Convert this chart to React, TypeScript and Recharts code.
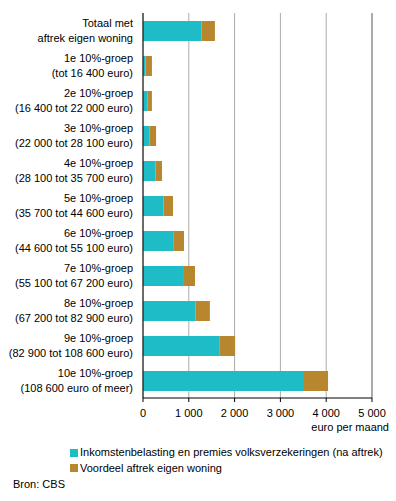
import { Bar, BarChart, CartesianGrid, ReferenceLine, XAxis, YAxis } from 'recharts';

const categories = [
  'Totaal met\naftrek eigen woning',
  '1e 10%-groep\n(tot 16 400 euro)',
  '2e 10%-groep\n(16 400 tot 22 000 euro)',
  '3e 10%-groep\n(22 000 tot 28 100 euro)',
  '4e 10%-groep\n(28 100 tot 35 700 euro)',
  '5e 10%-groep\n(35 700 tot 44 600 euro)',
  '6e 10%-groep\n(44 600 tot 55 100 euro)',
  '7e 10%-groep\n(55 100 tot 67 200 euro)',
  '8e 10%-groep\n(67 200 tot 82 900 euro)',
  '9e 10%-groep\n(82 900 tot 108 600 euro)',
  '10e 10%-groep\n(108 600 euro of meer)',
];

// euro per maand
const belasting = [1280, 55, 100, 145, 275, 450, 660, 875, 1150, 1665, 3515];
const voordeel = [290, 140, 95, 140, 140, 205, 235, 260, 310, 345, 525];

const xTicks = [0, 1000, 2000, 3000, 4000, 5000];

const SERIES_NAMES = [
  'Inkomstenbelasting en premies volksverzekeringen (na aftrek)',
  'Voordeel aftrek eigen woning',
];
const COLORS = ['#1ebcc7', '#b8862f'];

const FONT = '"Liberation Sans", Arial, sans-serif';

const data = categories.map((name, i) => ({
  name,
  belasting: belasting[i],
  voordeel: voordeel[i],
}));

function CategoryTick(props: any) {
  const { x, y, payload } = props;
  const lines = String(payload.value).split('\n');
  return (
    <text x={x} y={y} textAnchor="end" fontSize={11} fontFamily={FONT} fill="#000">
      {lines.map((line, i) => (
        <tspan key={i} x={x} dy={i === 0 ? -3.5 : 14.5}>
          {line}
        </tspan>
      ))}
    </text>
  );
}

const formatThousands = (v: number) => String(v).replace(/\B(?=(\d{3})+(?!\d))/g, ' ');

export default function App() {
  return (
    <div style={{ position: 'relative', width: 396, height: 501, fontFamily: FONT, background: '#fff' }}>
      <style>{'body{margin:0}'}</style>
      <BarChart
        width={396}
        height={501}
        data={data}
        layout="vertical"
        barSize={20}
        margin={{ top: 13, right: 24, bottom: 73, left: 0 }}
      >
        <CartesianGrid vertical horizontal={false} stroke="#ababab" />
        <XAxis
          type="number"
          domain={[0, 5000]}
          ticks={xTicks}
          interval={0}
          tickFormatter={formatThousands}
          axisLine={{ stroke: '#000' }}
          tickLine={{ stroke: '#000' }}
          tickSize={4}
          tickMargin={7}
          height={30}
          tick={{ fontSize: 11, fill: '#000', fontFamily: FONT }}
        />
        <XAxis
          xAxisId="top"
          orientation="top"
          type="number"
          domain={[0, 5000]}
          tick={false}
          tickLine={false}
          axisLine={{ stroke: '#808080' }}
          height={0}
        />
        <YAxis
          type="category"
          dataKey="name"
          width={143}
          axisLine={{ stroke: '#000' }}
          tickLine={false}
          tickSize={0}
          tickMargin={10}
          interval={0}
          tick={<CategoryTick />}
        />
        <ReferenceLine x={5000} stroke="#808080" />
        <Bar dataKey="belasting" stackId="a" fill={COLORS[0]} isAnimationActive={false} />
        <Bar dataKey="voordeel" stackId="a" fill={COLORS[1]} isAnimationActive={false} />
      </BarChart>

      <div style={{ position: 'absolute', right: 7, top: 420, fontSize: 11, lineHeight: '14px' }}>euro per maand</div>

      <div style={{ position: 'absolute', left: 70, top: 445, fontSize: 11, lineHeight: '15.5px' }}>
        {SERIES_NAMES.map((name, i) => (
          <div key={name} style={{ display: 'flex', alignItems: 'center', whiteSpace: 'nowrap' }}>
            <span style={{ display: 'inline-block', width: 8, height: 8, background: COLORS[i], marginRight: 2 }} />
            {name}
          </div>
        ))}
      </div>

      <div style={{ position: 'absolute', left: 13, top: 477, fontSize: 11, lineHeight: '14px' }}>Bron: CBS</div>
    </div>
  );
}
